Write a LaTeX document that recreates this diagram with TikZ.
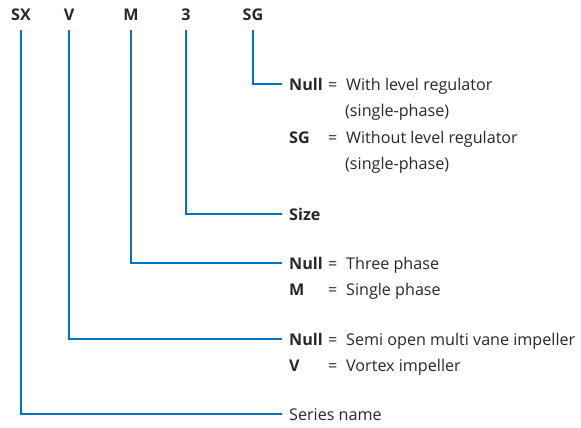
\documentclass[tikz,border=0pt]{standalone}
\usepackage{fontspec}
\setmainfont{Open Sans}
\usepackage{tikz}
\usetikzlibrary{calc}
\definecolor{wireblue}{RGB}{0,114,198}
\definecolor{textgray}{RGB}{40,40,40}
\tikzstyle{code}=[font=\bfseries,anchor=base,inner sep=0pt]
\tikzstyle{key}=[font=\bfseries,anchor=base west,inner xsep=7bp,inner ysep=0pt]
\tikzstyle{eqsign}=[anchor=base west,inner sep=0pt]
\tikzstyle{desc}=[anchor=base west,inner sep=0pt]
\tikzstyle{wire}=[draw=wireblue,line width=2bp,
  to path={([yshift=-10bp]\tikztostart.base) |- ([yshift=6bp]\tikztotarget.base west)}]

\begin{document}
\begin{tikzpicture}[x=1bp,y=-1bp,text=textgray]
 \fontsize{16.2}{19}\selectfont
 \useasboundingbox (0,0) rectangle (581,427);

 % type code
 \node[code] (sx) at (21,20) {SX};
 \node[code] (v) at (69,20) {V};
 \node[code] (m) at (131,20) {M};
 \node[code] (size) at (186,20) {3};
 \node[code] (sg) at (253,20) {SG};

 % level regulator
 \node[key] (nullsg) at (282,90) {Null};
 \node[eqsign] (eqsg1) at (328,90) {=};
 \node[desc] (descsg1) at (346,90) {With level regulator};
 \node[desc] (descsg2) at (345,116.5) {(single-phase)};
 \node[key] (keysg) at (282,143) {SG};
 \node[eqsign] (eqsg2) at (328,143) {=};
 \node[desc] (descsg3) at (346,143) {Without level regulator};
 \node[desc] (descsg4) at (345,169.5) {(single-phase)};

 % size
 \node[key] (keysize) at (282,220) {Size};

 % phase
 \node[key] (nullm) at (282,269) {Null};
 \node[eqsign] (eqm1) at (328,269) {=};
 \node[desc] (descm1) at (346,269) {Three phase};
 \node[key] (keym) at (282,295.5) {M};
 \node[eqsign] (eqm2) at (328,295.5) {=};
 \node[desc] (descm2) at (346,295.5) {Single phase};

 % impeller
 \node[key] (nullv) at (282,345) {Null};
 \node[eqsign] (eqv1) at (328,345) {=};
 \node[desc] (descv1) at (346,345) {Semi open multi vane impeller};
 \node[key] (keyv) at (282,371.5) {V};
 \node[eqsign] (eqv2) at (328,371.5) {=};
 \node[desc] (descv2) at (346,371.5) {Vortex impeller};

 % series
 \node[desc,inner xsep=7bp] (series) at (282,420) {Series name};

\path
(sg) edge [wire] (nullsg)
(size) edge [wire] (keysize)
(m) edge [wire] (nullm)
(v) edge [wire] (nullv)
(sx) edge [wire] (series);

\end{tikzpicture}
\end{document}
